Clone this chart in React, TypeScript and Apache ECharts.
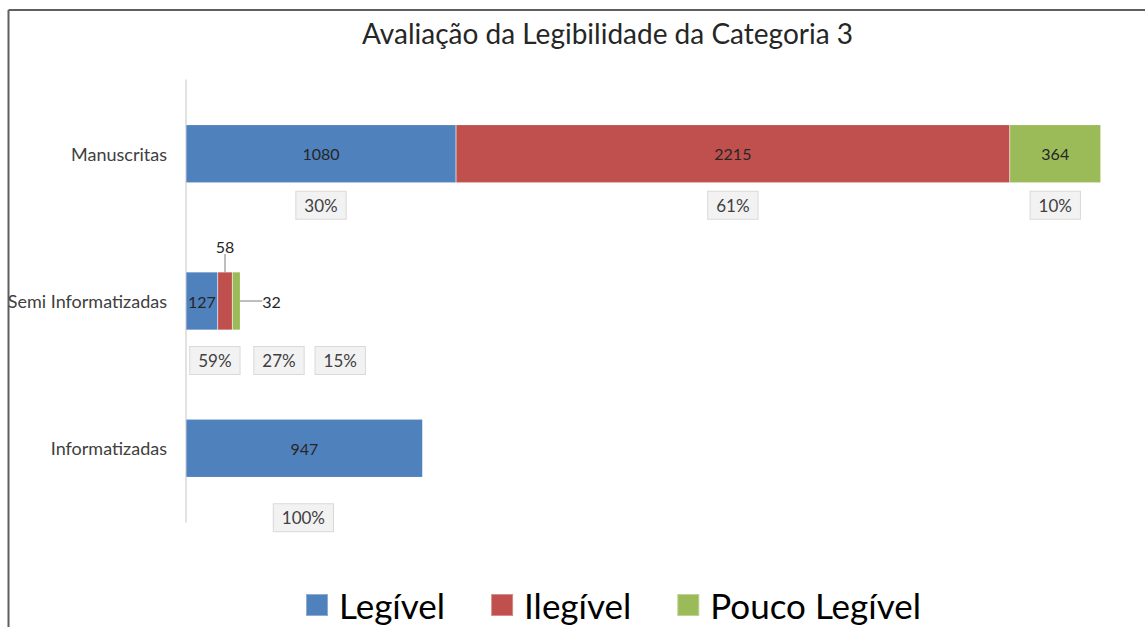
import React, { useEffect, useRef } from "react";
import * as echarts from "echarts";

const categories = ["Manuscritas", "Semi Informatizadas", "Informatizadas"];
const seriesNames = ["Legível", "Ilegível", "Pouco Legível"];
const legivel = [1080, 127, 947];
const ilegivel = [2215, 58, 0];
const poucoLegivel = [364, 32, 0];
const colors = ["#4f81bd", "#c0504d", "#9bbb59"];

const FONT = "Lato, 'Liberation Sans', sans-serif";

export default function App() {
  const ref = useRef<HTMLDivElement>(null);

  useEffect(() => {
    if (!ref.current) return;
    const chart = echarts.init(ref.current, null, { renderer: "svg" });
    const values = [legivel, ilegivel, poucoLegivel];
    const totals = categories.map((_, i) => values.reduce((s, arr) => s + arr[i], 0));

    const pctDistance = [9, 17, 27];
    const pctOffsetX = [
      [0, 0, 0],
      [13, 54, 104],
      [-1, 0, 0],
    ];

    const valueSeries = values.map((arr, si) => ({
      name: seriesNames[si],
      type: "bar",
      stack: "total",
      barWidth: 58,
      barGap: "-100%",
      itemStyle: { color: colors[si], borderColor: "rgba(255,255,255,0.35)", borderWidth: 0.5 },
      label: {
        show: true,
        position: "inside",
        color: "#262626",
        fontFamily: FONT,
        fontSize: 16,
      },
      labelLayout: (params: any) => {
        if (params.dataIndex !== 1) return {};
        const r = params.rect;
        if (si === 1) {
          return { x: r.x + r.width / 2, y: r.y - 26, align: "center", verticalAlign: "middle" };
        }
        if (si === 2) {
          return { x: r.x + r.width + 22, y: r.y + r.height / 2, align: "left", verticalAlign: "middle" };
        }
        return {};
      },
      data: arr.map((v, ci) => {
        if (v === 0) return { value: v, label: { show: false } };
        if (ci === 1 && si > 0) {
          return { value: v, labelLine: { show: true, lineStyle: { color: "#7f7f7f", width: 1 } } };
        }
        return { value: v };
      }),
    }));

    const pctSeries = values.map((arr, si) => ({
      name: "pct" + si,
      type: "bar",
      stack: "pct",
      barWidth: 58,
      barGap: "-100%",
      silent: true,
      itemStyle: { color: "rgba(0,0,0,0)" },
      label: {
        show: true,
        position: "bottom",
        color: "#404040",
        fontFamily: FONT,
        fontSize: 17,
        backgroundColor: "#f2f2f2",
        borderColor: "#d9d9d9",
        borderWidth: 1,
        padding: [5, 8, 5, 8],
        formatter: (p: any) => Math.round((p.value / totals[p.dataIndex]) * 100) + "%",
      },
      data: arr.map((v, ci) => {
        if (v === 0) return { value: v, label: { show: false } };
        return {
          value: v,
          label: { distance: pctDistance[ci], offset: [pctOffsetX[ci][si], 0] },
        };
      }),
    }));

    chart.setOption({
      animation: false,
      title: {
        text: "Avaliação da Legibilidade da Categoria 3",
        left: 357,
        top: 14,
        textStyle: { fontFamily: FONT, fontSize: 28, fontWeight: "normal", color: "#262626" },
      },
      legend: {
        data: seriesNames,
        left: 305,
        top: 587,
        padding: 0,
        icon: "rect",
        itemWidth: 22,
        itemHeight: 22,
        itemGap: 45,
        textStyle: {
          fontFamily: FONT,
          fontSize: 35,
          lineHeight: 36,
          color: "#000000",
          padding: [0, 0, 0, 6],
        },
      },
      grid: { left: 186, top: 80, width: 950, height: 442, containLabel: false },
      xAxis: {
        type: "value",
        min: 0,
        max: 3800,
        show: false,
        splitLine: { show: false },
      },
      yAxis: {
        type: "category",
        data: categories,
        inverse: true,
        axisLine: { show: true, lineStyle: { color: "#d9d9d9", width: 1.5 } },
        axisTick: { show: false },
        axisLabel: { margin: 19, color: "#404040", fontFamily: FONT, fontSize: 18 },
      },
      graphic: [
        { type: "line", shape: { x1: 8.5, y1: 10, x2: 1145, y2: 10 }, style: { stroke: "#5f5f5f", lineWidth: 2 } },
        { type: "line", shape: { x1: 8.5, y1: 10, x2: 8.5, y2: 627 }, style: { stroke: "#5f5f5f", lineWidth: 2 } },
      ],
      series: [...valueSeries, ...pctSeries],
    });

    return () => chart.dispose();
  }, []);

  return (
    <div
      ref={ref}
      style={{ position: "absolute", left: 0, top: 0, width: 1145, height: 627, background: "#ffffff" }}
    />
  );
}
